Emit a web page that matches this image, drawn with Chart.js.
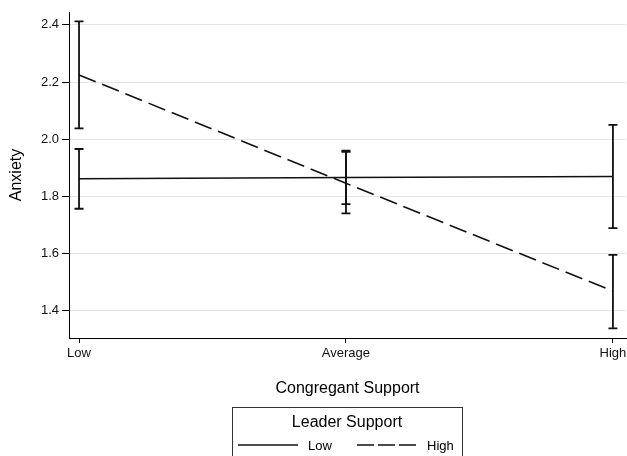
<!DOCTYPE html>
<html><head><meta charset="utf-8">
<script src="https://cdn.jsdelivr.net/npm/chart.js@4"></script>
<style>html,body{margin:0;padding:0;background:#fff}</style>
</head><body>
<canvas id="c" width="627" height="456"></canvas>
<script>
const categories = ['Low', 'Average', 'High'];
const seriesNames = ['Low', 'High'];
const legendTitle = 'Leader Support';
const xTitle = 'Congregant Support';
const yTitle = 'Anxiety';
const lowMean  = [1.862, 1.866, 1.870];
const lowLower = [1.757, 1.773, 1.689];
const lowUpper = [1.966, 1.956, 2.050];
const highMean  = [2.225, 1.846, 1.469];
const highLower = [2.038, 1.741, 1.339];
const highUpper = [2.412, 1.960, 1.596];
const yTicks = [1.4, 1.6, 1.8, 2.0, 2.2, 2.4];

Chart.defaults.font.family = "'Liberation Sans', Arial, sans-serif";
Chart.defaults.color = '#000';

const toPts = arr => arr.map((v, i) => ({ x: i, y: v }));
const dash = [18, 7];

const errorBars = {
  id: 'errorBars',
  afterDatasetsDraw(chart) {
    const { ctx, scales: { x, y } } = chart;
    const sets = [[lowLower, lowUpper], [highLower, highUpper]];
    ctx.save();
    ctx.strokeStyle = '#111';
    ctx.lineWidth = 1.8;
    ctx.setLineDash([]);
    sets.forEach(([lo, hi]) => {
      lo.forEach((l, i) => {
        const px = x.getPixelForValue(i);
        const y1 = y.getPixelForValue(l), y2 = y.getPixelForValue(hi[i]);
        ctx.beginPath();
        ctx.moveTo(px, y1); ctx.lineTo(px, y2);
        ctx.moveTo(px - 4.5, y1); ctx.lineTo(px + 4.5, y1);
        ctx.moveTo(px - 4.5, y2); ctx.lineTo(px + 4.5, y2);
        ctx.stroke();
      });
    });
    ctx.restore();
  }
};

const boxLegend = {
  id: 'boxLegend',
  afterDraw(chart) {
    const { ctx } = chart;
    ctx.save();
    ctx.strokeStyle = '#333';
    ctx.lineWidth = 1;
    ctx.strokeRect(232.5, 407.5, 230, 60);
    ctx.fillStyle = '#000';
    ctx.textBaseline = 'middle';
    ctx.textAlign = 'center';
    ctx.font = "16px 'Liberation Sans', Arial, sans-serif";
    ctx.fillText(legendTitle, 347, 423);
    ctx.textAlign = 'left';
    ctx.font = "13px 'Liberation Sans', Arial, sans-serif";
    ctx.strokeStyle = '#111';
    ctx.lineWidth = 1.6;
    ctx.beginPath(); ctx.moveTo(238, 445); ctx.lineTo(298, 445); ctx.stroke();
    ctx.fillText(seriesNames[0], 308, 446);
    ctx.setLineDash([17, 4]);
    ctx.beginPath(); ctx.moveTo(357, 445); ctx.lineTo(416, 445); ctx.stroke();
    ctx.setLineDash([]);
    ctx.fillText(seriesNames[1], 427, 446);
    ctx.restore();
  }
};

new Chart(document.getElementById('c'), {
  type: 'line',
  data: {
    datasets: [
      { label: seriesNames[0], data: toPts(lowMean), borderColor: '#111', borderWidth: 1.6, pointRadius: 0, fill: false, tension: 0 },
      { label: seriesNames[1], data: toPts(highMean), borderColor: '#111', borderWidth: 1.6, borderDash: dash, pointRadius: 0, fill: false, tension: 0 }
    ]
  },
  options: {
    responsive: false,
    animation: false,
    devicePixelRatio: 1,
    layout: { padding: { top: 12, right: 1, bottom: 58, left: 0 } },
    plugins: { legend: { display: false }, tooltip: { enabled: false } },
    scales: {
      x: {
        type: 'linear',
        min: -0.0375, max: 2.049,
        afterBuildTicks: s => { s.ticks = categories.map((_, i) => ({ value: i })); },
        afterFit: s => { s.height = 60; s.paddingLeft = 0; s.paddingRight = 0; },
        ticks: { callback: v => categories[v], font: { size: 13 }, color: '#111', padding: 3, maxRotation: 0 },
        grid: { drawOnChartArea: false, tickColor: '#000', tickLength: 5 },
        border: { color: '#000', width: 1 },
        title: { display: true, text: xTitle, font: { size: 16 }, color: '#000', padding: { top: 0, bottom: 0 } }
      },
      y: {
        min: 1.305, max: 2.445,
        afterBuildTicks: s => { s.ticks = yTicks.map(v => ({ value: v })); },
        afterFit: s => { s.width = 69; s.paddingTop = 0; s.paddingBottom = 0; },
        ticks: { callback: v => v.toFixed(1), font: { size: 13 }, color: '#111', padding: 3 },
        grid: { color: '#e4e4e4', tickColor: '#000', tickLength: 7, lineWidth: 1 },
        border: { color: '#000', width: 1 },
        title: { display: true, text: yTitle, font: { size: 16 }, color: '#000', padding: { top: 7, bottom: 0 } }
      }
    }
  },
  plugins: [errorBars, boxLegend]
});
</script>
</body></html>
